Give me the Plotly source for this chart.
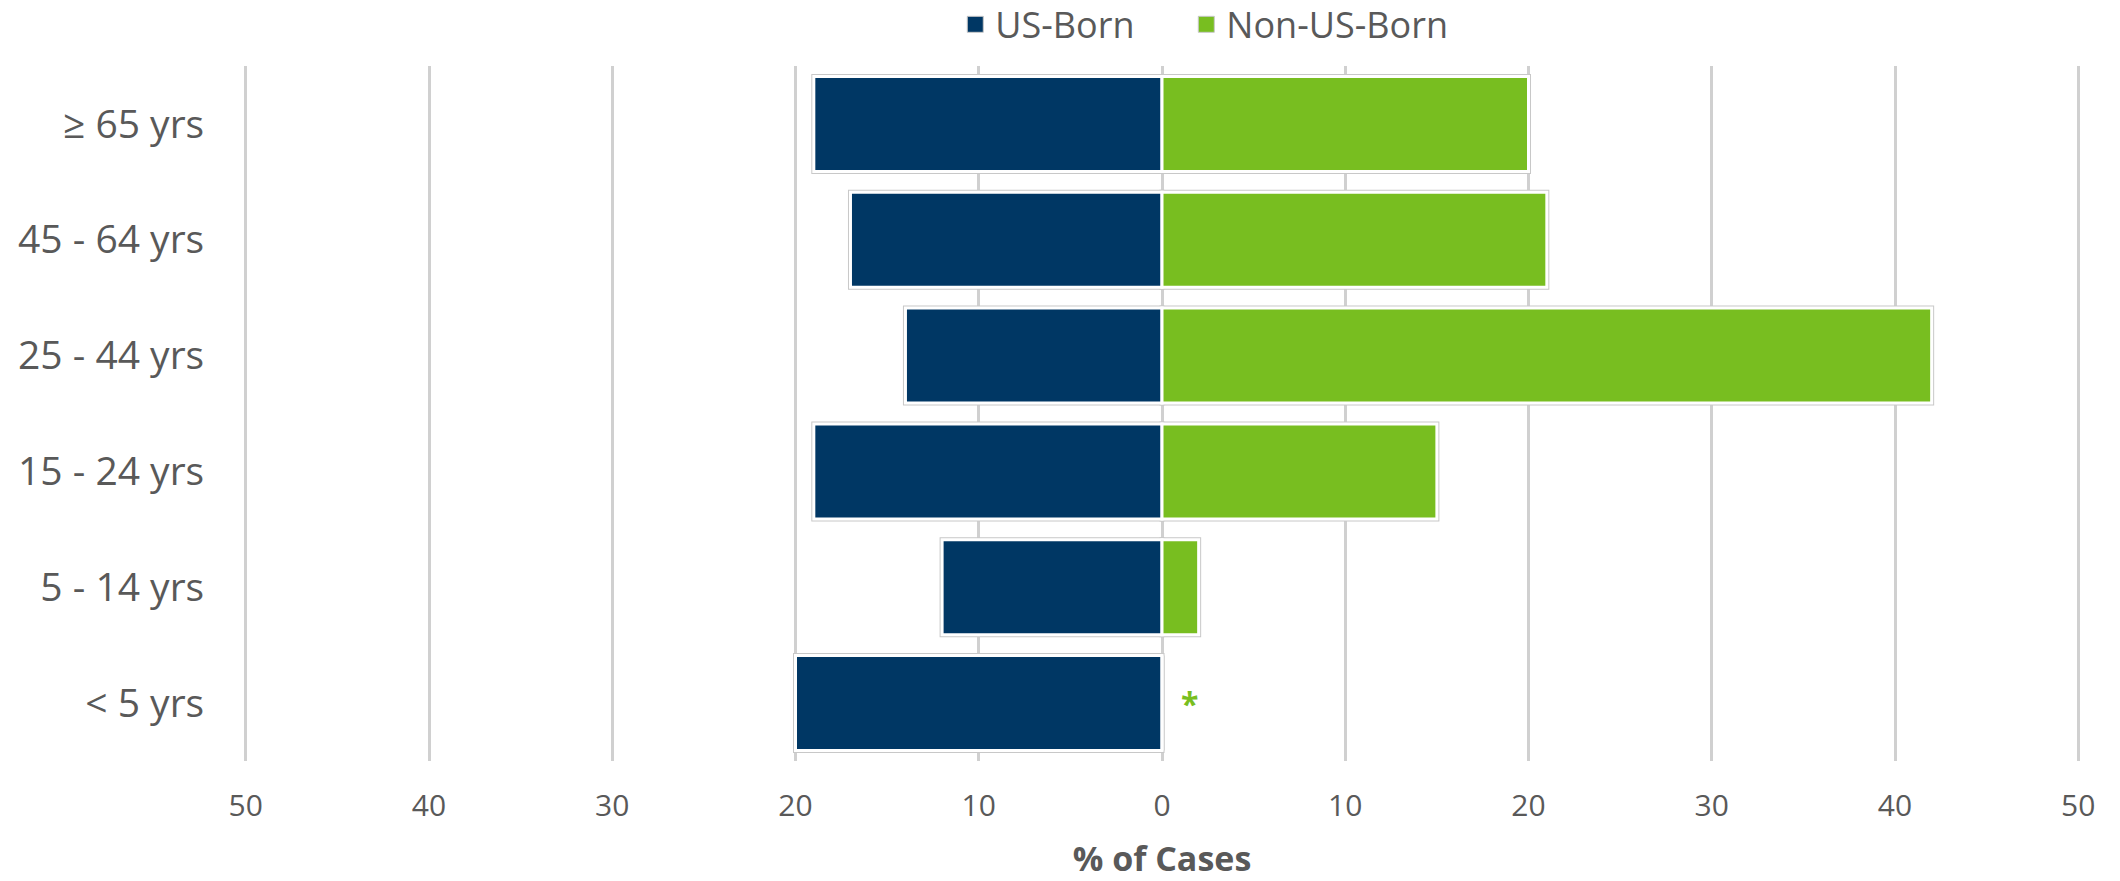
import plotly.graph_objects as go

ages = ["< 5 yrs", "5 - 14 yrs", "15 - 24 yrs", "25 - 44 yrs", "45 - 64 yrs", "≥ 65 yrs"]
us_born = [20, 12, 19, 14, 17, 19]
non_us_born = [0, 2, 15, 42, 21, 20]
tick_vals = [-50, -40, -30, -20, -10, 0, 10, 20, 30, 40, 50]
tick_text = ["50", "40", "30", "20", "10", "0", "10", "20", "30", "40", "50"]

navy = "#003764"
green = "#78BE20"
grey_txt = "#595959"

us_neg = [-v for v in us_born]

fig = go.Figure()
# light grey outline behind the white bar borders
fig.add_trace(go.Bar(y=ages, x=us_neg, orientation="h", marker=dict(color=navy, line=dict(color="#c8c8c8", width=5)),
                     showlegend=False, hoverinfo="skip"))
fig.add_trace(go.Bar(y=ages, x=non_us_born, orientation="h", marker=dict(color=green, line=dict(color="#c8c8c8", width=5)),
                     showlegend=False, hoverinfo="skip"))
fig.add_trace(go.Bar(y=ages, x=us_neg, orientation="h", name="US-Born", showlegend=False,
                     marker=dict(color=navy, line=dict(color="white", width=3)),
                     customdata=us_born, hovertemplate="%{y}: %{customdata}%<extra>US-Born</extra>"))
fig.add_trace(go.Bar(y=ages, x=non_us_born, orientation="h", name="Non-US-Born", showlegend=False,
                     marker=dict(color=green, line=dict(color="white", width=3))))

# legend entries with bigger square swatches
for name, col in [("US-Born&nbsp;&nbsp;&nbsp;&nbsp;&nbsp;", navy), ("Non-US-Born", green)]:
    fig.add_trace(go.Scatter(x=[None], y=[None], mode="markers", name=name,
                             marker=dict(symbol="square", size=30, color=col, line=dict(color="#c8c8c8", width=1))))

fig.add_annotation(x=1.5, y="< 5 yrs", text="<b>*</b>", showarrow=False,
                   font=dict(size=32, color=green, family="Open Sans"))

fig.update_layout(
    width=2120, height=881,
    barmode="overlay", bargap=0.18,
    plot_bgcolor="white", paper_bgcolor="white",
    margin=dict(l=243, r=39, t=66, b=120, autoexpand=False),
    font=dict(family="Open Sans", color=grey_txt),
    legend=dict(orientation="h", x=0.523, xanchor="center", y=1.103, yanchor="top",
                font=dict(size=36, color=grey_txt), traceorder="normal", itemwidth=30),
)
fig.update_xaxes(range=[-50.15, 50.15], tickvals=tick_vals, ticktext=tick_text,
                 showgrid=True, gridcolor="#d0d0d0", gridwidth=3,
                 zeroline=True, zerolinecolor="#d0d0d0", zerolinewidth=3,
                 ticks="outside", ticklen=18, tickcolor="rgba(0,0,0,0)",
                 tickfont=dict(size=30, color=grey_txt), automargin=False,
                 title=dict(text="<b>% of Cases</b>", font=dict(size=34, color=grey_txt), standoff=23))
fig.update_yaxes(showgrid=False, ticks="outside", ticklen=30, tickcolor="rgba(0,0,0,0)",
                 tickfont=dict(size=39, color=grey_txt), automargin=False)

fig.write_html("out.html", config={"displayModeBar": False},
               post_script="document.body.style.margin='0';")
